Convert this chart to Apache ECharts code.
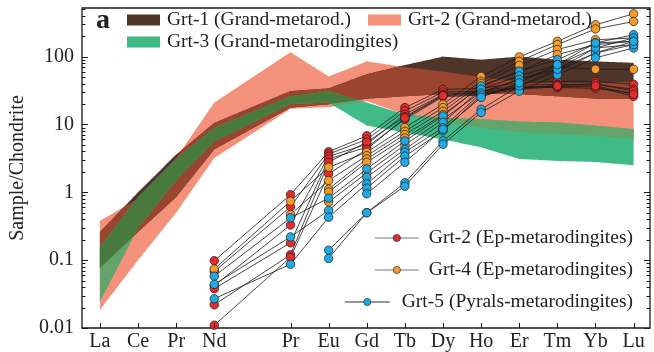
<!DOCTYPE html>
<html>
<head>
<meta charset="utf-8">
<script src="https://cdn.jsdelivr.net/npm/echarts@6/dist/echarts.min.js"></script>
<style>
  html, body { margin: 0; padding: 0; background: #fff; }
  #chart { width: 654px; height: 352px; }
</style>
</head>
<body>
<div id="chart"></div>
<script>
// element names along x (index 4 is the empty Pm slot)
const elements = ['La', 'Ce', 'Pr', 'Nd', '', 'Pr', 'Eu', 'Gd', 'Tb', 'Dy', 'Ho', 'Er', 'Tm', 'Yb', 'Lu'];
const labelIdx = [0, 1, 2, 3, 5, 6, 7, 8, 9, 10, 11, 12, 13, 14];

// y axis ticks
const majorTicks = [0.01, 0.1, 1, 10, 100];
const minorSteps = [2, 3, 4, 5, 6, 7, 8, 9];

// field bands (lower / upper), null = no value
const grt1Low  = [0.076, 0.26, 0.85, 4.3, null, 17.7, 19.8, 24, 26, 28, 28, 28, 26, 24, 23.6];
const grt1High = [0.26, 1.0, 3.6, 10.5, null, 31, 34, 55, 75, 100, 90, 100, 90, 85, 81];
const grt2Low  = [0.0185, 0.1, 0.5, 3.2, null, 17, 18, 22, 14, 11, 9, 7.7, 7.2, 6.8, 6.1];
const grt2High = [0.38, 0.8, 3.2, 21, null, 116, 51, 85, 70, 60, 50, 43, 41, 41, 43];
const grt3Low  = [0.0246, 0.3, 1.5, 5.6, null, 20, 21, 9.6, 7.6, 6, 4.6, 3.1, 2.9, 2.8, 2.5];
const grt3High = [0.157, 0.85, 3.1, 9, null, 26, 31, 21, 14, 12.5, 12, 11, 10.7, 9.6, 8.5];

// Grt-2 (Ep-metarodingites)
const redSamples = [
  [null, null, null, 0.098, null, 0.92, 3.96, 6.8, 17.7, 32.8, 34, 41, 43, 43, 39],
  [null, null, null, 0.068, null, 0.61, 3.66, 6.0, 15.8, 30, 31, 38, 39, 39, 33],
  [null, null, null, 0.042, null, 0.33, 3.39, 5.1, 14.1, 27.7, 30, 36, 35, 34, 29],
  [null, null, null, 0.038, null, 0.18, 3.10, 4.6, 11.9, 25.7, 27, 33, 36, 36, 26],
  [null, null, null, 0.022, null, 0.12, 2.77, 5.5, 13, 27, 29, 34, 38, 40, 31],
  [null, null, null, 0.011, null, 0.11, 1.87, 4.3, 12.5, 26.5, 28, 35, 37, 37, 28]
];
// Grt-4 (Ep-metarodingites)
const orangeSamples = [
  [null, null, null, 0.074, null, 0.74, 2.34, 3.9, 9.0, 19.8, 51, 99, 168, 294, 427],
  [null, null, null, null, null, 0.47, 1.49, 3.46, 7.9, 17.7, 43, 85, 150, 255, 329],
  [null, null, null, null, null, null, 1.12, 3.1, 7.1, 15.6, 40, 74, 127, 177, 188],
  [null, null, null, null, null, null, 1.01, 2.77, 6.3, 14, 36, 60, 107, 150, 168],
  [null, null, null, null, null, null, 0.72, 1.93, 5.0, 11.9, 30, 46, 70, 65, 65]
];
// Grt-5 (Pyrals-metarodingites)
const blueSamples = [
  [null, null, null, 0.058, null, 0.42, 0.82, 2.21, 5.7, 13.3, 37, 61, 90, 159, 210],
  [null, null, null, 0.044, null, 0.22, 0.54, 1.67, 4.3, 10.7, 33, 52, 76, 134, 188],
  [null, null, null, 0.027, null, 0.087, 0.43, 1.33, 3.9, 9.0, 29, 46, 65, 113, 168],
  [null, null, null, null, null, null, 0.14, 0.5, 1.38, 5.7, 16.7, 37, 60, 113, 150],
  [null, null, null, null, null, null, 0.106, 0.5, 1.23, 5.1, 15, 31, 54, 96, 134],
  [null, null, null, null, null, null, null, 1.15, 3.4, 8.05, 27, 37, 65, 134, 150],
  [null, null, null, null, null, null, null, 0.95, 2.77, 8.5, 25, 41, 76, 159, 168]
];

const FONT = 'Liberation Serif';
const X_MIN = -0.47, X_MAX = 14.43, Y_MIN = 0.01, Y_MAX = 520;

// polygon of the common part of one or more bands, sampled in log space
function bandPolygon(bands, api) {
  const idx = [];
  elements.forEach((e, i) => {
    if (bands.every(b => b[0][i] != null)) idx.push(i);
  });
  const N = 30;
  const up = [], low = [];
  for (let k = 0; k < idx.length - 1; k++) {
    const a = idx[k], b = idx[k + 1];
    const last = k === idx.length - 2;
    for (let s = 0; s <= (last ? N : N - 1); s++) {
      const t = s / N;
      const x = a + (b - a) * t;
      let lo = -Infinity, hi = Infinity;
      bands.forEach(([l, h]) => {
        const ll = Math.log10(l[a]) + (Math.log10(l[b]) - Math.log10(l[a])) * t;
        const hh = Math.log10(h[a]) + (Math.log10(h[b]) - Math.log10(h[a])) * t;
        lo = Math.max(lo, ll);
        hi = Math.min(hi, hh);
      });
      if (hi < lo) hi = lo;
      up.push(api.coord([x, Math.pow(10, hi)]));
      low.push(api.coord([x, Math.pow(10, lo)]));
    }
  }
  return up.concat(low.reverse());
}

function bandSeries(name, color, bands) {
  return {
    type: 'custom',
    name: name,
    silent: true,
    clip: true,
    data: [[0, 1]],
    itemStyle: { color: color },
    renderItem: (params, api) => ({
      type: 'polygon',
      shape: { points: bandPolygon(bands, api) },
      style: { fill: color }
    })
  };
}

function sampleSeries(name, color, rows) {
  return rows.map(row => ({
    type: 'line',
    name: name,
    data: row.map((v, i) => (v == null ? null : [i, v])).filter(Boolean),
    symbol: 'circle',
    symbolSize: 8.5,
    itemStyle: { color: color, borderColor: '#1a1a1a', borderWidth: 0.7 },
    lineStyle: { color: '#1a1a1a', width: 0.8 },
    emphasis: { disabled: true }
  }));
}

const b1 = [grt1Low, grt1High];
const b2 = [grt2Low, grt2High];
const b3 = [grt3Low, grt3High];

// axis ticks drawn inside the frame
const tickSeries = {
  type: 'custom',
  silent: true,
  clip: false,
  z: 10,
  data: [[0, 1]],
  renderItem: (params, api) => {
    const cs = params.coordSys;
    const children = [];
    const line = (x1, y1, x2, y2) => children.push({
      type: 'line',
      shape: { x1: x1, y1: y1, x2: x2, y2: y2 },
      style: { stroke: '#1a1a1a', lineWidth: 1 }
    });
    const yTick = (v, len) => {
      const py = Math.round(api.coord([0, v])[1]) + 0.5;
      line(cs.x, py, cs.x + len, py);
      line(cs.x + cs.width, py, cs.x + cs.width - len, py);
    };
    majorTicks.forEach(v => {
      yTick(v, 6);
      minorSteps.forEach(m => {
        if (v * m < Y_MAX) yTick(v * m, 3.5);
      });
    });
    labelIdx.forEach(i => {
      const px = Math.round(api.coord([i, Y_MIN])[0]) + 0.5;
      line(px, cs.y + cs.height, px, cs.y + cs.height - 5);
    });
    return { type: 'group', children: children };
  }
};

const chart = echarts.init(document.getElementById('chart'));

const textStyle = { fontFamily: FONT, fontSize: 19.5, color: '#222' };

function lineLegend(name, top, width, lineColor, gap) {
  return {
    data: [name], right: 21, top: top, padding: 0,
    itemWidth: width, itemHeight: 9,
    lineStyle: { color: lineColor, width: 1.2 },
    itemStyle: { borderWidth: 0.6 },
    textStyle: Object.assign({ padding: [0, 0, 0, gap] }, textStyle),
    selectedMode: false
  };
}

function boxLegend(name, left, top) {
  return {
    data: [name], left: left, top: top, padding: 0,
    icon: 'rect', itemWidth: 33, itemHeight: 11,
    textStyle: Object.assign({ padding: [0, 0, 0, 2] }, textStyle),
    selectedMode: false
  };
}

chart.setOption({
  animation: false,
  title: {
    text: 'a',
    left: 96,
    top: 7,
    padding: 0,
    textStyle: { fontFamily: FONT, fontWeight: 'bold', fontSize: 28, color: '#222' }
  },
  legend: [
    boxLegend('Grt-1 (Grand-metarod.)', 127, 10),
    boxLegend('Grt-3 (Grand-metarodingites)', 127, 32),
    boxLegend('Grt-2 (Grand-metarod.)', 368, 10),
    lineLegend('Grt-2 (Ep-metarodingites)', 228, 44, '#777', 5),
    lineLegend('Grt-4 (Ep-metarodingites)', 260, 44, '#777', 5),
    lineLegend('Grt-5 (Pyrals-metarodingites)', 292, 45, '#333', 7)
  ],
  grid: {
    left: 78, right: 4, top: 8, bottom: 22,
    show: true, borderColor: '#1a1a1a', borderWidth: 1.3
  },
  xAxis: {
    type: 'value',
    min: X_MIN,
    max: X_MAX,
    axisLine: { show: false },
    axisTick: { show: false },
    splitLine: { show: false },
    axisLabel: {
      customValues: labelIdx,
      formatter: v => elements[Math.round(v)],
      fontFamily: FONT, fontSize: 20, color: '#222', margin: 4
    }
  },
  yAxis: {
    type: 'log',
    logBase: 10,
    min: Y_MIN,
    max: Y_MAX,
    axisLine: { show: false },
    axisTick: { show: false },
    splitLine: { show: false },
    minorTick: { show: false },
    axisLabel: {
      showMaxLabel: false,
      formatter: v => {
        const e = Math.round(Math.log10(v));
        if (Math.abs(Math.log10(v) - e) > 1e-6) return '';
        return e >= 0 ? String(Math.pow(10, e)) : Math.pow(10, e).toFixed(-e);
      },
      fontFamily: FONT, fontSize: 20, color: '#222', margin: 8
    },
    name: 'Sample/Chondrite',
    nameLocation: 'middle',
    nameGap: 54,
    nameTextStyle: { fontFamily: FONT, fontSize: 20, color: '#222' }
  },
  series: [
    bandSeries('Grt-2 (Grand-metarod.)', '#f4917a', [b2]),
    bandSeries('Grt-1 (Grand-metarod.)', '#4f3428', [b1]),
    bandSeries('Grt-3 (Grand-metarodingites)', '#40bb88', [b3]),
    bandSeries('ov-1-2', '#9a452f', [b1, b2]),
    bandSeries('ov-3-2', '#64a46a', [b3, b2]),
    bandSeries('ov-3-1', '#487a3d', [b3, b1]),
    ...sampleSeries('Grt-2 (Ep-metarodingites)', '#e62b2b', redSamples),
    ...sampleSeries('Grt-4 (Ep-metarodingites)', '#f49b2b', orangeSamples),
    ...sampleSeries('Grt-5 (Pyrals-metarodingites)', '#1faae4', blueSamples),
    tickSeries
  ]
});
</script>
</body>
</html>
